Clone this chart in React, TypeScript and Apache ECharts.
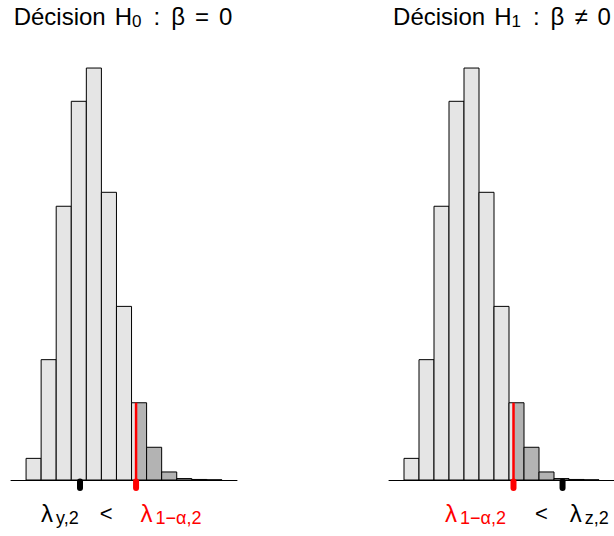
import React, { useEffect, useRef } from "react";
import * as echarts from "echarts";

// ---------- data ----------
// histogram bins (unit width) and frequencies (identical in both panels)
const binStarts = [0, 1, 2, 3, 4, 5, 6, 7, 8, 9, 10, 11, 12, 13, 14];
const binEnds = [1, 2, 3, 4, 5, 6, 7, 8, 9, 10, 11, 12, 13, 14, 15];
const counts = [0, 121, 673, 1531, 2118, 2304, 1609, 971, 432, 183, 45, 8, 3, 1, 0];
// critical value λ(1−α,2) and observed statistics
const criticalValue = 8.3;
const lambdaY = 4.58;
const lambdaZ = 11.57;
// panel titles
const titleSubs = ["0", "1"];
const titleRel = ["=", "≠"];

const FONT = "Liberation Sans, Arimo, Arial, Helvetica, sans-serif";
const LIGHT = "#E5E5E5";
const DARK = "#B3B3B3";
const RED = "#FF0000";

const histData = binStarts.map((s, i) => [s, binEnds[i], counts[i]]);

function countAt(x: number) {
  const i = binStarts.findIndex((s, k) => x >= s && x < binEnds[k]);
  return i >= 0 ? counts[i] : 0;
}

function renderHist(_params: any, api: any) {
  const x0 = api.value(0);
  const x1 = api.value(1);
  const c = api.value(2);
  const tl = api.coord([x0, c]);
  const br = api.coord([x1, 0]);
  const h = br[1] - tl[1];
  const children: any[] = [];
  if (c <= 0) return { type: "group", children };
  if (x1 <= criticalValue) {
    children.push({ type: "rect", shape: { x: tl[0], y: tl[1], width: br[0] - tl[0], height: h }, style: { fill: LIGHT } });
  } else if (x0 >= criticalValue) {
    children.push({ type: "rect", shape: { x: tl[0], y: tl[1], width: br[0] - tl[0], height: h }, style: { fill: DARK } });
  } else {
    const pc = api.coord([criticalValue, 0])[0];
    children.push({ type: "rect", shape: { x: tl[0], y: tl[1], width: pc - tl[0], height: h }, style: { fill: LIGHT } });
    children.push({ type: "rect", shape: { x: pc, y: tl[1], width: br[0] - pc, height: h }, style: { fill: DARK } });
  }
  children.push({
    type: "rect",
    shape: { x: tl[0], y: tl[1], width: br[0] - tl[0], height: h },
    style: { fill: "none", stroke: "#000", lineWidth: 1 },
  });
  return { type: "group", children };
}

function renderMarker(_params: any, api: any) {
  const x = api.value(0);
  const top = api.value(1);
  const kind = api.value(2);
  const color = kind === 1 ? RED : "#000";
  const base = api.coord([x, 0]);
  const children: any[] = [];
  if (top > 0) {
    const t = api.coord([x, top]);
    children.push({
      type: "line",
      shape: { x1: base[0], y1: t[1], x2: base[0], y2: base[1] },
      style: { stroke: color, lineWidth: 2.5 },
    });
  }
  children.push({
    type: "line",
    shape: { x1: base[0], y1: base[1] + 1.5, x2: base[0], y2: base[1] + 8 },
    style: { stroke: color, lineWidth: 6, lineCap: "round" },
  });
  return { type: "group", children };
}

function titleRich(): any {
  const main = { fontSize: 24, lineHeight: 30, fontFamily: FONT, fill: "#000", verticalAlign: "middle" };
  return {
    m: { ...main },
    h: { ...main, padding: [0, 0, 0, 9] },
    s: { fontSize: 17, lineHeight: 17, fontFamily: FONT, fill: "#000", verticalAlign: "top", padding: [12, 0, 0, 0] },
    c: { ...main, padding: [0, 0, 0, 12] },
    b: { ...main, padding: [0, 0, 0, 11] },
    e: { ...main, padding: [0, 0, 0, 10] },
    z: { ...main, padding: [0, 0, 0, 10] },
  };
}

function labelRich(): any {
  const main = { fontSize: 24, lineHeight: 30, fontFamily: FONT, verticalAlign: "middle" };
  const sub = { fontSize: 18, lineHeight: 18, fontFamily: FONT, verticalAlign: "top" };
  const lt = { fontSize: 22, lineHeight: 30, fontFamily: FONT, fill: "#000", verticalAlign: "middle" };
  return {
    l: { ...main, fill: "#000" },
    lp: { ...main, fill: "#000", padding: [0, 0, 0, 22] },
    ls: { ...sub, fill: "#000", padding: [11, 0, 0, 3] },
    r: { ...main, fill: RED },
    rp: { ...main, fill: RED, padding: [0, 0, 0, 28] },
    rs: { ...sub, fill: RED, padding: [11, 0, 0, 3] },
    lt1: { ...lt, padding: [0, 0, 0, 21] },
    lt2: { ...lt, padding: [0, 0, 0, 29] },
  };
}

export default function App() {
  const ref = useRef<HTMLDivElement>(null);
  useEffect(() => {
    if (!ref.current) return;
    const chart = echarts.init(ref.current, null, { renderer: "svg" });
    const grids = [
      { left: 11, top: 33, width: 226, height: 447 },
      { left: 389, top: 33, width: 226, height: 447 },
    ];
    const xAxes = grids.map((_, i) => ({
      type: "value",
      gridIndex: i,
      min: 0,
      max: 15,
      axisLine: { show: true, onZero: true, lineStyle: { color: "#000", width: 1 } },
      axisTick: { show: false },
      axisLabel: { show: false },
      splitLine: { show: false },
    }));
    const yAxes = grids.map((_, i) => ({
      type: "value",
      gridIndex: i,
      min: 0,
      max: 2500,
      show: false,
      splitLine: { show: false },
    }));
    const stats = [lambdaY, lambdaZ];
    const series: any[] = [];
    grids.forEach((_, i) => {
      series.push({
        type: "custom",
        xAxisIndex: i,
        yAxisIndex: i,
        renderItem: renderHist,
        encode: { x: [0, 1], y: 2 },
        data: histData,
        clip: false,
        silent: true,
        z: 2,
      });
      series.push({
        type: "custom",
        xAxisIndex: i,
        yAxisIndex: i,
        renderItem: renderMarker,
        encode: { x: 0, y: 1 },
        data: [
          [stats[i], 0, 0],
          [criticalValue, countAt(criticalValue), 1],
        ],
        clip: false,
        silent: true,
        z: 5,
      });
    });

    const titleText = (i: number) =>
      `{m|Décision}{h|H}{s|${titleSubs[i]}}{c|:}{b|β}{e|${titleRel[i]}}{z|0}`;

    chart.setOption({
      animation: false,
      backgroundColor: "#fff",
      grid: grids,
      xAxis: xAxes,
      yAxis: yAxes,
      series,
      graphic: [
        { type: "text", x: 123, y: 16, style: { text: titleText(0), rich: titleRich(), align: "center", verticalAlign: "middle" } },
        { type: "text", x: 502, y: 16, style: { text: titleText(1), rich: titleRich(), align: "center", verticalAlign: "middle" } },
        {
          type: "text",
          x: 41,
          y: 513,
          style: { text: "{l|λ}{ls|y,2}{lt1|<}{rp|λ}{rs|1−α,2}", rich: labelRich(), align: "left", verticalAlign: "middle" },
        },
        {
          type: "text",
          x: 445,
          y: 513,
          style: { text: "{r|λ}{rs|1−α,2}{lt2|<}{lp|λ}{ls|z,2}", rich: labelRich(), align: "left", verticalAlign: "middle" },
        },
      ],
    });
    return () => chart.dispose();
  }, []);
  return (
    <div
      ref={ref}
      style={{ position: "fixed", left: 0, top: 0, width: 614, height: 536, background: "#fff" }}
    />
  );
}
